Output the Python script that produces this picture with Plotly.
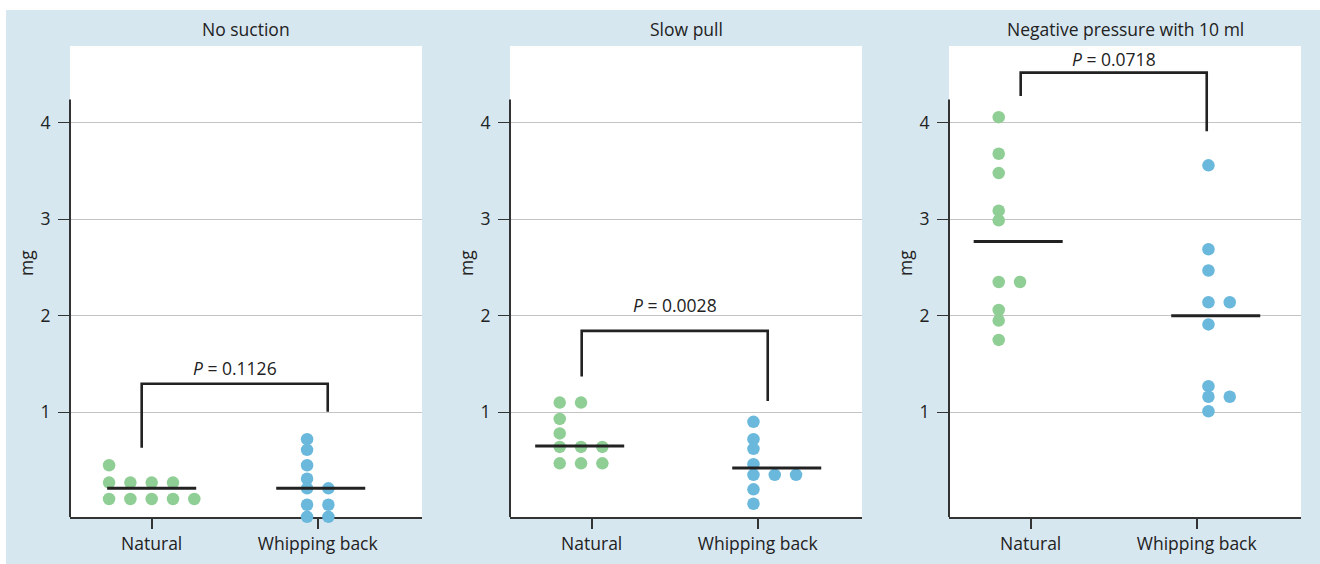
import plotly.graph_objects as go

# ---------------- data ----------------
panel_titles = ["No suction", "Slow pull", "Negative pressure with 10 ml"]
categories = ["Natural", "Whipping back"]

natural_no_suction = [0.45, 0.27, 0.27, 0.27, 0.27, 0.10, 0.10, 0.10, 0.10, 0.10]
whipping_no_suction = [0.72, 0.61, 0.45, 0.31, 0.21, 0.21, 0.04, 0.04, -0.085, -0.085]

natural_slow_pull = [1.10, 1.10, 0.93, 0.78, 0.64, 0.64, 0.64, 0.47, 0.47, 0.47]
whipping_slow_pull = [0.90, 0.72, 0.62, 0.46, 0.35, 0.35, 0.35, 0.20, 0.05]

natural_negative = [4.06, 3.68, 3.48, 3.09, 2.99, 2.35, 2.35, 2.06, 1.95, 1.75]
whipping_negative = [3.56, 2.69, 2.47, 2.14, 2.14, 1.91, 1.27, 1.16, 1.16, 1.01]

center_lines = [[0.21, 0.21], [0.65, 0.42], [2.77, 2.00]]
p_labels = ["0.1126", "0.0028", "0.0718"]
y_ticks = [1, 2, 3, 4]

# ---------------- layout / style ----------------
GREEN = "#8fce94"
BLUE = "#6ab8dc"
BG = "#d7e7f0"
INK = "#222222"
FONT = "Open Sans"
FS = 17.5
W, H = 1320, 564
PX_PER_UNIT = 166.0
STEP = 21.3 / PX_PER_UNIT          # horizontal spacing of tied dots
dot_start = [[-2, -0.5], [-1.5, -0.2], [-1.5, 0.55]]      # first column, in steps
line_shift_px = [[0, 3], [-12, 19], [-12.5, 19]]
LINE_HALF = 44.5 / PX_PER_UNIT
# bracket: left foot, top, right foot, label y
brackets = [[0.63, 1.295, 1.004, 1.463],
            [1.369, 1.843, 1.116, 2.108],
            [4.28, 4.522, 3.914, 4.668]]
BR_DX = 10 / PX_PER_UNIT
x_dom_px = [(70, 422), (510, 862), (949, 1301)]
y_top_px, y_bot_px = 46, 517
y_range = [-0.087, 4.798]
x_range = [-0.492, 1.628]
y_axis_top = 4.243

groups = [[natural_no_suction, whipping_no_suction],
          [natural_slow_pull, whipping_slow_pull],
          [natural_negative, whipping_negative]]
colors = [GREEN, BLUE]

fig = go.Figure()

def columns(vals):
    seen = {}
    cols = []
    for v in vals:
        c = seen.get(v, 0)
        cols.append(c)
        seen[v] = c + 1
    return cols

for p in range(3):
    xa = "x" if p == 0 else f"x{p+1}"
    ya = "y" if p == 0 else f"y{p+1}"
    for g in range(2):
        vals = groups[p][g]
        cols = columns(vals)
        xs = [g + (dot_start[p][g] + c) * STEP for c in cols]
        fig.add_trace(go.Scatter(x=xs, y=vals, mode="markers", xaxis=xa, yaxis=ya,
                                 marker=dict(size=12.5, color=colors[g], line=dict(width=0)),
                                 cliponaxis=False, showlegend=False, hoverinfo="y"))
    for g in range(2):
        cx = g + line_shift_px[p][g] / PX_PER_UNIT
        yv = center_lines[p][g]
        fig.add_trace(go.Scatter(x=[cx - LINE_HALF, cx + LINE_HALF], y=[yv, yv], mode="lines",
                                 xaxis=xa, yaxis=ya, line=dict(color=INK, width=3),
                                 showlegend=False, hoverinfo="skip"))
    lb, top, rb, ty = brackets[p]
    fig.add_trace(go.Scatter(x=[0 - BR_DX, 0 - BR_DX, 1 + BR_DX, 1 + BR_DX],
                             y=[lb, top, top, rb], mode="lines", xaxis=xa, yaxis=ya,
                             line=dict(color=INK, width=2.6), showlegend=False, hoverinfo="skip"))
    fig.add_annotation(x=0.5, y=ty, xref=xa, yref=ya, text=f"<i>P</i> = {p_labels[p]}",
                       showarrow=False, xanchor="center", yanchor="middle",
                       font=dict(family=FONT, size=FS, color=INK))
    # y axis line (shorter than plot area)
    fig.add_shape(type="line", xref=f"{xa} domain", yref=ya, x0=0, x1=0,
                  y0=y_range[0], y1=y_axis_top, line=dict(color="#333333", width=2))
    # panel title
    x0, x1 = x_dom_px[p]
    fig.add_annotation(x=(x0 + x1) / 2 / W, y=(H - 28.8) / H, xref="paper", yref="paper",
                       text=panel_titles[p], showarrow=False, xanchor="center", yanchor="middle",
                       font=dict(family=FONT, size=FS, color=INK))
    fig.add_annotation(x=(x0 - 44) / W, y=(H - 263) / H, xref="paper", yref="paper",
                       text="mg", textangle=-90, showarrow=False, xanchor="center", yanchor="middle",
                       font=dict(family=FONT, size=FS, color=INK))

    fig.layout[f"xaxis{'' if p == 0 else p+1}"] = dict(
        domain=[x0 / W, x1 / W], range=x_range, anchor=ya,
        tickvals=[0, 1], ticktext=categories, ticks="outside", ticklen=10, tickwidth=1.5,
        tickcolor="#333333", showline=True, linecolor="#333333", linewidth=2,
        tickfont=dict(family=FONT, size=FS, color=INK), ticklabelstandoff=0,
        showgrid=False, zeroline=False, fixedrange=True, layer="below traces")
    fig.layout[f"yaxis{'' if p == 0 else p+1}"] = dict(
        domain=[(H - y_bot_px) / H, (H - y_top_px) / H], range=y_range, anchor=xa,
        tickvals=y_ticks, ticks="outside", ticklen=11, tickwidth=1, tickcolor="#333333",
        showgrid=True, gridcolor="#c4c4c4", gridwidth=1, zeroline=False, showline=False,
        tickfont=dict(family=FONT, size=FS, color=INK), ticklabelstandoff=4,
        fixedrange=True, layer="below traces")

# white strips around the blue panel
fig.add_shape(type="rect", xref="paper", yref="paper", x0=0, x1=1, y0=(H - 10) / H, y1=1,
              fillcolor="white", line=dict(width=0), layer="below")
fig.add_shape(type="rect", xref="paper", yref="paper", x0=0, x1=6 / W, y0=0, y1=1,
              fillcolor="white", line=dict(width=0), layer="below")

fig.update_layout(width=W, height=H, margin=dict(l=0, r=0, t=0, b=0),
                  paper_bgcolor=BG, plot_bgcolor="white", showlegend=False,
                  font=dict(family=FONT, size=FS, color=INK))

fig.write_html("out.html", config={"displayModeBar": False},
               post_script="document.body.style.margin='0';document.body.style.overflow='hidden';")
